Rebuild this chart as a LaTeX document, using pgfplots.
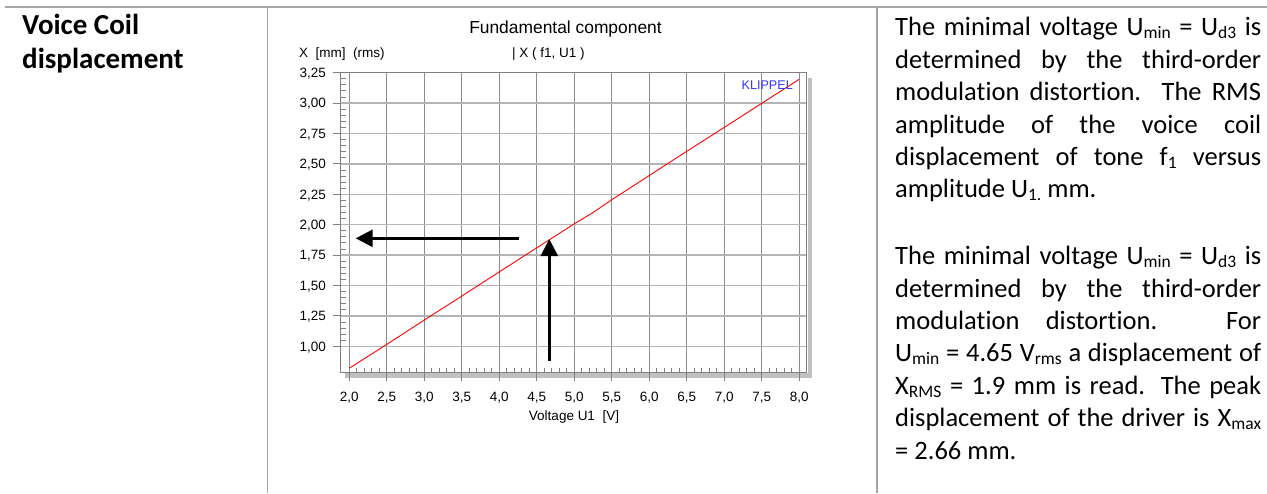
\documentclass[border=0pt]{standalone}
\usepackage{fontspec}
\setmainfont{Carlito}[Ligatures=NoCommon]
\newfontfamily\arialf{Liberation Sans}
\usepackage{pgfplots}
\pgfplotsset{compat=1.18}
\usetikzlibrary{arrows.meta}

\definecolor{gridv}{HTML}{8C8C8C}
\definecolor{gridh}{HTML}{B4B4B4}
\definecolor{framec}{HTML}{808080}
\definecolor{shadowc}{HTML}{C0C0C0}
\definecolor{rulec}{HTML}{A6A6A6}
\definecolor{klippel}{HTML}{3333FF}

% one justified line of the right-hand column, and a ragged last line
\newcommand\jline[2]{\node[anchor=base west,inner sep=0pt] at (895pt,#1pt) {\makebox[366pt][s]{#2}};}
\newcommand\lline[2]{\node[anchor=base west,inner sep=0pt] at (895pt,#1pt) {#2};}
% Word-like subscript
\newcommand\sub[1]{\raisebox{-3pt}{\fontsize{17.5}{18}\selectfont #1}}

\begin{document}
\begin{tikzpicture}
\path[use as bounding box] (0pt,0pt) rectangle (1267pt,493pt);

% table rules
\draw[rulec, line width=1.3pt] (5pt,486pt) -- (1267pt,486pt);
\draw[rulec, line width=1.3pt] (267.7pt,486pt) -- (267.7pt,0pt);
\draw[rulec, line width=1.3pt] (877pt,486pt) -- (877pt,0pt);

% left heading
\node[anchor=base west,inner sep=0pt,font=\fontsize{29}{34}\selectfont\bfseries] at (22pt,458pt) {Voice Coil};
\node[anchor=base west,inner sep=0pt,font=\fontsize{29}{34}\selectfont\bfseries] at (22pt,424pt) {displacement};

% chart shadow
\fill[shadowc] (807.5pt,115pt) rectangle (812pt,415pt);
\fill[shadowc] (345pt,115pt) rectangle (812pt,119.5pt);

\begin{axis}[
  at={(340.7pt,120.3pt)}, anchor=south west,
  scale only axis, width=466pt, height=300pt,
  xmin=1.885, xmax=8.1, ymin=0.783, ymax=3.25,
  xtick={2,2.5,...,8}, ytick={1,1.25,...,3.25},
  minor x tick num=4, minor y tick num=4,
  grid=major,
  x grid style={gridv, line width=1.1pt},
  y grid style={gridh, line width=1.4pt},
  axis line style={framec, line width=1.2pt},
  tick pos=left,
  tick align=inside,
  major tick length=-8pt, minor tick length=5pt,
  tick style={framec, line width=0.9pt},
  /pgf/number format/assume math mode=true,
  ticklabel style={font=\arialf\fontsize{13.5}{16}\selectfont, inner sep=0pt},
  xticklabel style={anchor=base, yshift=-29.1pt,
    /pgf/number format/.cd, fixed, fixed zerofill, precision=1, use comma},
  yticklabel style={anchor=base east, xshift=-14.7pt, yshift=-4.8pt,
    /pgf/number format/.cd, fixed, fixed zerofill, precision=2, use comma},
]
\addplot[red, line width=0.9pt] coordinates {
  (2.0,0.820) (2.5,1.016) (3.0,1.216) (3.5,1.413) (4.0,1.612)
  (4.5,1.810) (5.0,2.007) (5.25,2.100) (5.5,2.205) (6.0,2.404)
  (6.42,2.572) (7.0,2.800) (7.5,2.998) (8.0,3.196)
};
\addplot[black, line width=2.6pt, -{Triangle[length=17pt,width=17pt]}]
  coordinates {(4.263,1.888) (2.085,1.888)};
\addplot[black, line width=2.6pt, -{Triangle[length=17pt,width=17pt]}]
  coordinates {(4.667,0.879) (4.667,1.882)};
\end{axis}

% chart texts
\node[anchor=base,inner sep=0pt,font=\arialf\fontsize{17.4}{20}\selectfont] at (565.5pt,459.8pt) {Fundamental component};
\node[anchor=base west,inner sep=0pt,font=\arialf\fontsize{13.5}{16}\selectfont] at (299pt,435.2pt) {X\ \ [mm]\ \ (rms)};
\node[anchor=base west,inner sep=0pt,font=\arialf\fontsize{13.5}{16}\selectfont] at (512pt,435.2pt) {| X ( f1, U1 )};
\node[anchor=base east,inner sep=0pt,text=klippel,font=\arialf\fontsize{12.6}{15}\selectfont] at (793pt,403.5pt) {KLIPPEL};
\node[anchor=base,inner sep=0pt,font=\arialf\fontsize{13.5}{16}\selectfont] at (574pt,72.2pt) {Voltage U1\ \ [V]};

% right-hand text
\begin{scope}[every node/.style={font=\fontsize{26.5}{32.4}\selectfont}]
\jline{457}{The minimal voltage U\sub{min} = U\sub{d3} is}
\jline{424.6}{determined by the third-order}
\jline{392.2}{modulation distortion. The RMS}
\jline{359.8}{amplitude of the voice coil}
\jline{327.4}{displacement of tone f\sub{1} versus}
\lline{295}{amplitude U\sub{1.} mm.}
\jline{228.3}{The minimal voltage U\sub{min} = U\sub{d3} is}
\jline{195.9}{determined by the third-order}
\jline{163.5}{modulation distortion. For}
\jline{131.1}{U\sub{min} = 4.65 V\sub{rms} a displacement of}
\jline{98.7}{X\sub{RMS} = 1.9 mm is read. The peak}
\jline{66.3}{displacement of the driver is X\sub{max}}
\lline{33.9}{= 2.66 mm.}
\end{scope}
\end{tikzpicture}
\end{document}
